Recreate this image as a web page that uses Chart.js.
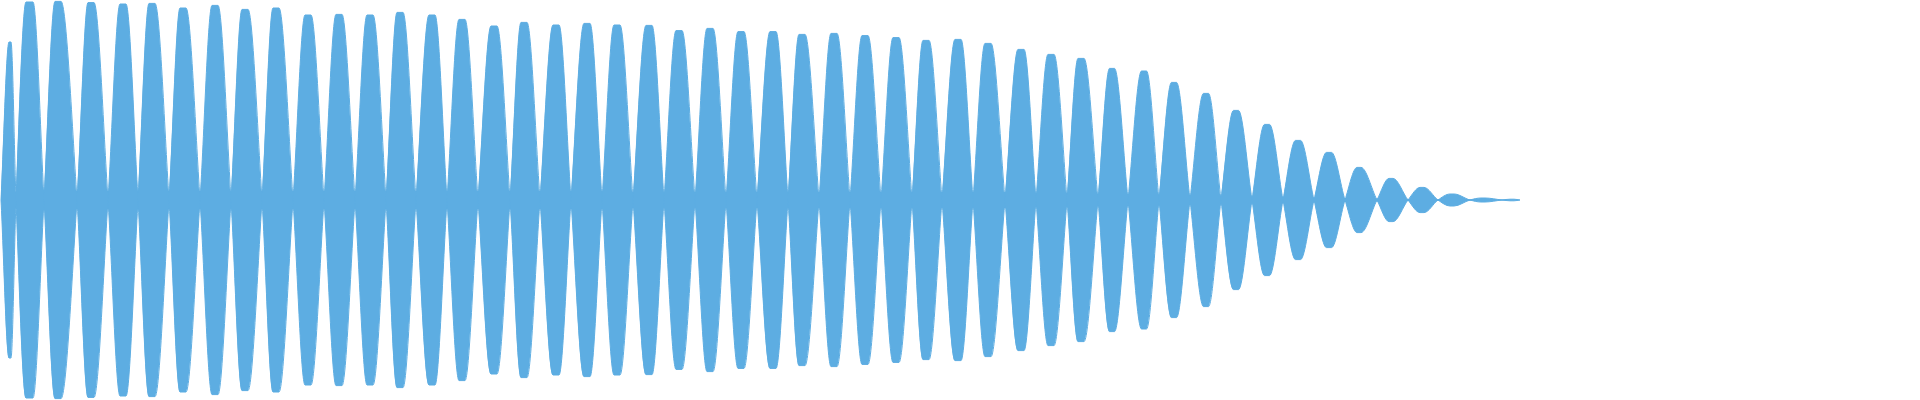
<!DOCTYPE html>
<html>
<head>
<meta charset="utf-8">
<script src="https://cdn.jsdelivr.net/npm/chart.js@4/dist/chart.umd.min.js"></script>
<style>
  html, body { margin: 0; padding: 0; background: #ffffff; }
  #wrap { width: 1920px; height: 400px; }
</style>
</head>
<body>
<div id="wrap"><canvas id="c" width="1920" height="400"></canvas></div>
<script>
// Waveform (x in frames, amplitude as fraction of full scale)
const junctionX = [1, 16, 44, 77, 108, 138, 169, 200, 231, 262, 293, 324, 355, 386, 416, 447, 478,
  510, 540, 571, 602, 633, 664, 695, 726, 757, 788, 819, 850, 881, 912, 942, 973,
  1005, 1036, 1067, 1098, 1128, 1159, 1190, 1221, 1252, 1283, 1314, 1345, 1377, 1408, 1438, 1470, 1502, 1520];
const junctionAmp = [0.01, 0.045, 0.045, 0.045, 0.045, 0.045, 0.045, 0.045, 0.045, 0.045, 0.045, 0.045, 0.045,
  0.045, 0.045, 0.045, 0.045, 0.045, 0.045, 0.045, 0.045, 0.04, 0.04, 0.04, 0.04, 0.04, 0.04, 0.04, 0.04,
  0.04, 0.04, 0.04, 0.04, 0.04, 0.035, 0.035, 0.03, 0.03, 0.025, 0.025, 0.02, 0.015, 0.015, 0.01, 0.01,
  0.0075, 0.005, 0.005, 0.0035, 0.0025, 0];
const peakX = [10, 29.5, 58, 91, 123, 152, 183, 215, 245, 276, 308, 339, 370, 400, 432, 462, 494,
  524, 556, 587, 617, 649, 679, 710, 741, 773, 802, 834, 865, 896, 926, 958, 988,
  1021, 1051, 1081, 1112, 1144, 1174, 1206, 1236, 1267, 1298, 1329, 1359, 1391, 1422, 1452, 1483, 1512];
const peakWidth = [2, 7, 6, 6, 6, 6, 6, 6, 6, 6, 6, 6, 6, 6, 6, 6, 6,
  6, 6, 6, 6, 6, 6, 6, 6, 6, 6, 6, 6, 6, 6, 6, 6,
  6, 6, 6, 5, 5, 5, 5, 5, 5, 5, 5, 4, 4, 4, 4, 4, 4];
const peakAmp = [0.79, 0.99, 0.993, 0.987, 0.98, 0.983, 0.96, 0.973, 0.953, 0.96, 0.925, 0.928, 0.925,
  0.938, 0.925, 0.903, 0.87, 0.888, 0.875, 0.883, 0.875, 0.873, 0.847, 0.858, 0.842, 0.842, 0.828,
  0.833, 0.822, 0.812, 0.798, 0.803, 0.783, 0.753, 0.728, 0.708, 0.658, 0.645, 0.588, 0.533, 0.448,
  0.378, 0.298, 0.238, 0.163, 0.108, 0.063, 0.03, 0.01, 0.004];
const totalFrames = 1920;

// oscillating waveform: each lobe alternates sign, crossing zero at the junctions
const wave = [];
for (let k = 0; k < peakX.length; k++) {
  const s = k % 2 === 0 ? 1 : -1;
  wave.push({ x: junctionX[k], y: 0 });
  wave.push({ x: peakX[k] - peakWidth[k] / 2, y: s * peakAmp[k] });
  wave.push({ x: peakX[k] + peakWidth[k] / 2, y: s * peakAmp[k] });
}
wave.push({ x: junctionX[peakX.length], y: 0 });
const waveMirror = wave.map(p => ({ x: p.x, y: -p.y }));

// noise floor around the junctions
const floorUp = junctionX.map((x, i) => ({ x, y: junctionAmp[i] }));
const floorDown = floorUp.map(p => ({ x: p.x, y: -p.y }));

const color = '#5DADE2';
const waveDs = (data) => ({
  data, fill: 'origin', backgroundColor: color, borderColor: color,
  borderWidth: 1, pointRadius: 0, cubicInterpolationMode: 'monotone'
});
const floorDs = (data) => ({
  data, fill: 'origin', backgroundColor: color, borderColor: color,
  borderWidth: 0, pointRadius: 0, tension: 0
});

new Chart(document.getElementById('c'), {
  type: 'line',
  data: { datasets: [waveDs(wave), waveDs(waveMirror), floorDs(floorUp), floorDs(floorDown)] },
  options: {
    responsive: false,
    animation: false,
    layout: { padding: 0 },
    plugins: { legend: { display: false }, tooltip: { enabled: false } },
    scales: {
      x: { type: 'linear', min: 0, max: totalFrames, display: false },
      y: { min: -1, max: 1, display: false }
    }
  }
});
</script>
</body>
</html>
